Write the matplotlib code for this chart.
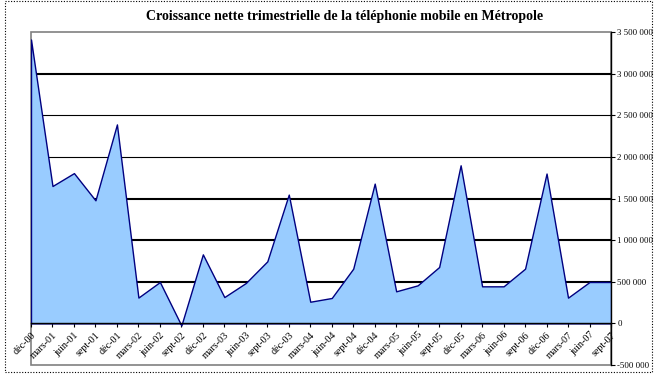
import matplotlib
matplotlib.use("Agg")
import matplotlib.pyplot as plt
from matplotlib.patches import Rectangle

# trimestres (déc-00 -> sept-07)
quarters = ["déc-00", "mars-01", "juin-01", "sept-01", "déc-01", "mars-02", "juin-02",
            "sept-02", "déc-02", "mars-03", "juin-03", "sept-03", "déc-03", "mars-04",
            "juin-04", "sept-04", "déc-04", "mars-05", "juin-05", "sept-05", "déc-05",
            "mars-06", "juin-06", "sept-06", "déc-06", "mars-07", "juin-07", "sept-07"]

# croissance nette (lignes)
net_growth = [3410000, 1650000, 1805000, 1478000, 2390000, 310000, 497000,
              -25000, 829000, 316000, 485000, 745000, 1547000, 260000,
              305000, 657000, 1679000, 385000, 457000, 677000, 1899000,
              445000, 445000, 657000, 1800000, 309000, 497000, 497000]

y_ticks = [-500000, 0, 500000, 1000000, 1500000, 2000000, 2500000, 3000000, 3500000]
y_tick_labels = ["-500 000", "0", "500 000", "1 000 000", "1 500 000", "2 000 000",
                 "2 500 000", "3 000 000", "3 500 000"]

plt.rcParams["font.family"] = ["Liberation Serif", "DejaVu Serif"]

fig = plt.figure(figsize=(6.58, 3.77), dpi=100)
ax = fig.add_axes([31 / 658, 12 / 377, 580 / 658, 333 / 377])

x = list(range(len(quarters)))

# gridlines (hidden behind the area, like Excel)
grid_w = {500000: 1.5, 1000000: 1.5, 1500000: 1.5, 2000000: 0.8, 2500000: 0.8, 3000000: 1.5}
for yv, lw in grid_w.items():
    ax.axhline(yv, color="black", lw=lw, zorder=1)

ax.fill_between(x, net_growth, 0, facecolor="#99CCFF", edgecolor="#000080", lw=1, zorder=2)

ax.set_xlim(0, len(quarters) - 1)
ax.set_ylim(-500000, 3500000)

# plot area border in grey
ax.add_patch(Rectangle((0, 0), 1, 1, transform=ax.transAxes, fill=False,
                       edgecolor="#808080", lw=1.2, zorder=0, clip_on=False))

for s in ["left", "top"]:
    ax.spines[s].set_visible(False)
ax.spines["right"].set_color("black")
ax.spines["right"].set_linewidth(1)
ax.spines["bottom"].set_position(("data", 0))
ax.spines["bottom"].set_color("black")
ax.spines["bottom"].set_linewidth(1)
ax.spines["bottom"].set_zorder(3)

ax.yaxis.tick_right()
ax.set_yticks(y_ticks)
ax.set_yticklabels(y_tick_labels, fontsize=6.3)
ax.tick_params(axis="y", direction="out", length=3, width=0.8, pad=1.5)

ax.set_xticks(x)
ax.set_xticklabels(quarters, fontsize=7.3, rotation=45, ha="right", rotation_mode="anchor")
ax.tick_params(axis="x", direction="out", length=3, width=0.8, pad=2)

fig.text(0.524, 0.955, "Croissance nette trimestrielle de la téléphonie mobile en Métropole",
         ha="center", va="center", fontsize=10, fontweight="bold")

# dotted chart-area border
fig.patches.append(Rectangle((5 / 658, 5 / 377), 647 / 658, 371 / 377, transform=fig.transFigure,
                             fill=False, edgecolor="black", lw=0.8, linestyle=(0, (1, 1.5))))

fig.savefig("out.png", dpi=100)
